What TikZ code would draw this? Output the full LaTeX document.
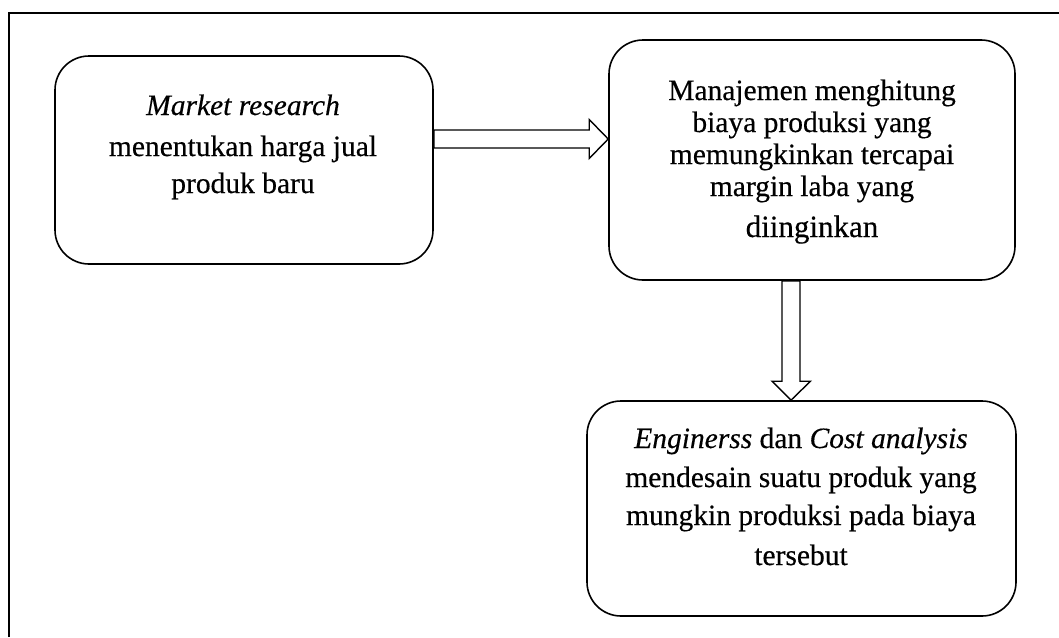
\documentclass[tikz,border=0pt]{standalone}
\usepackage{fontspec}
\setmainfont{Liberation Serif}[FakeBold=0.4]
\usetikzlibrary{calc}
\begin{document}
\begin{tikzpicture}[x=1pt,y=-1pt,
  box/.style={draw,line width=1.6pt,rounded corners=34pt,inner sep=0pt},
  txtline/.style={anchor=base,inner sep=0pt,font=\fontsize{29.5}{34}\selectfont},
  blockarrow/.style={draw,line width=1.4pt,fill=white,line join=miter}]
\useasboundingbox (0,0) rectangle (1059,637);
% outer frame (only top and left edges fall inside the picture)
\coordinate (fbl) at (9,637);
\coordinate (ftl) at (9,13);
\coordinate (ftr) at (1059,13);
\draw[line width=1.6pt] (fbl) -- (ftl) -- (ftr);
% boxes
\node[box,minimum width=378pt,minimum height=208pt] (b1) at (244,160) {};
\node[box,minimum width=406pt,minimum height=240pt] (b2) at (812,160) {};
\node[box,minimum width=429pt,minimum height=215pt] (b3) at (801.5,508.5) {};
% texts box 1
\node[txtline] (t1a) at (243,115) {\textit{Market research}};
\node[txtline] (t1b) at (243,156) {menentukan harga jual};
\node[txtline] (t1c) at (243,193) {produk baru};
% texts box 2
\node[txtline] (t2a) at (812,100) {Manajemen menghitung};
\node[txtline] (t2b) at (812,132) {biaya produksi yang};
\node[txtline] (t2c) at (812,164) {memungkinkan tercapai};
\node[txtline] (t2d) at (812,196) {margin laba yang};
\node[txtline,font=\fontsize{31}{36}\selectfont] (t2e) at (812,237) {diinginkan};
% texts box 3
\node[txtline] (t3a) at (801,448) {\textit{Enginerss} dan \textit{Cost analysis}};
\node[txtline] (t3b) at (801,487) {mendesain suatu produk yang};
\node[txtline] (t3c) at (801,525) {mungkin produksi pada biaya};
\node[txtline] (t3d) at (801,565) {tersebut};
% horizontal block arrow b1 -> b2
\path[blockarrow]
  ($(b1.east)+(0,-30)$) -- ($(b2.west)+(-19,-30)$) -- ($(b2.west)+(-19,-40.5)$)
  -- ($(b2.west)+(0,-21)$) -- ($(b2.west)+(-19,-1.5)$) -- ($(b2.west)+(-19,-12)$)
  -- ($(b1.east)+(0,-12)$) -- cycle;
% vertical block arrow b2 -> b3
\path[blockarrow]
  ($(b2.south)+(-30,0)$) -- ($(b3.north)+(-19.5,-19)$) -- ($(b3.north)+(-29.5,-19)$)
  -- ($(b3.north)+(-10.5,0)$) -- ($(b3.north)+(9,-19)$) -- ($(b3.north)+(-1.5,-19)$)
  -- ($(b2.south)+(-12,0)$) -- cycle;
\end{tikzpicture}
\end{document}
